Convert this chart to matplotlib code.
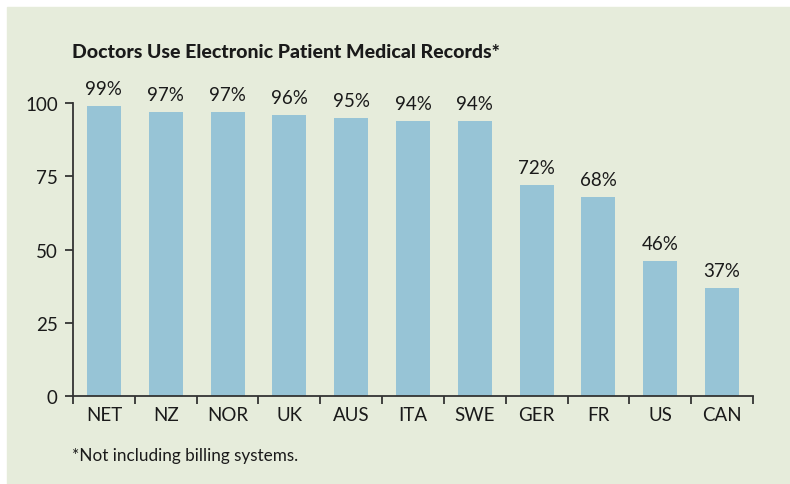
import matplotlib.pyplot as plt
import numpy as np

countries = ["NET", "NZ", "NOR", "UK", "AUS", "ITA", "SWE", "GER", "FR", "US", "CAN"]
pct_values = [99, 97, 97, 96, 95, 94, 94, 72, 68, 46, 37]
y_ticks = [0, 25, 50, 75, 100]

plt.rcParams['font.family'] = ['Lato', 'DejaVu Sans']

bg = '#e6ecdb'
bar_color = '#97c4d6'
ink = '#1a1a1a'

fig = plt.figure(figsize=(7.9, 4.85), dpi=100)
fig.patch.set_facecolor('white')
# the tinted panel behind everything
fig.patches.append(plt.Rectangle((7 / 790, 0), 783 / 790, 477 / 485,
                                 transform=fig.transFigure, color=bg, zorder=-1))

ax = fig.add_axes([73 / 790, 88 / 485, 680 / 790, 293 / 485])
ax.set_facecolor('none')

x = np.arange(len(countries))
ax.bar(x, pct_values, width=0.55, color=bar_color, zorder=2)
for xi, v in zip(x, pct_values):
    ax.text(xi, v + 3, f"{v}%", ha='center', va='bottom', fontsize=13.5,
            color=ink, clip_on=False)

ax.set_xlim(-0.5, len(countries) - 0.5)
ax.set_ylim(0, 100)

ax.set_yticks(y_ticks)
ax.set_yticklabels([str(t) for t in y_ticks], fontsize=13.5, color=ink)
ax.set_xticks(x)
ax.set_xticklabels(countries, fontsize=13.5, color=ink)
ax.set_xticks(np.arange(len(countries) + 1) - 0.5, minor=True)
ax.tick_params(axis='x', which='major', length=0, pad=7)
ax.tick_params(axis='x', which='minor', length=6, width=1.3, color='#333333')
ax.tick_params(axis='y', length=6, width=1.3, color='#333333', pad=5)

for side in ['top', 'right']:
    ax.spines[side].set_visible(False)
for side in ['left', 'bottom']:
    ax.spines[side].set_color('#333333')
    ax.spines[side].set_linewidth(1.3)

fig.text(72 / 790, 1 - 58 / 485, "Doctors Use Electronic Patient Medical Records*",
         fontsize=14, fontweight='black', color=ink, ha='left', va='baseline')
fig.text(72 / 790, 1 - 461 / 485, "*Not including billing systems.",
         fontsize=12.3, color=ink, ha='left', va='baseline')

fig.savefig('out.png', dpi=100)
